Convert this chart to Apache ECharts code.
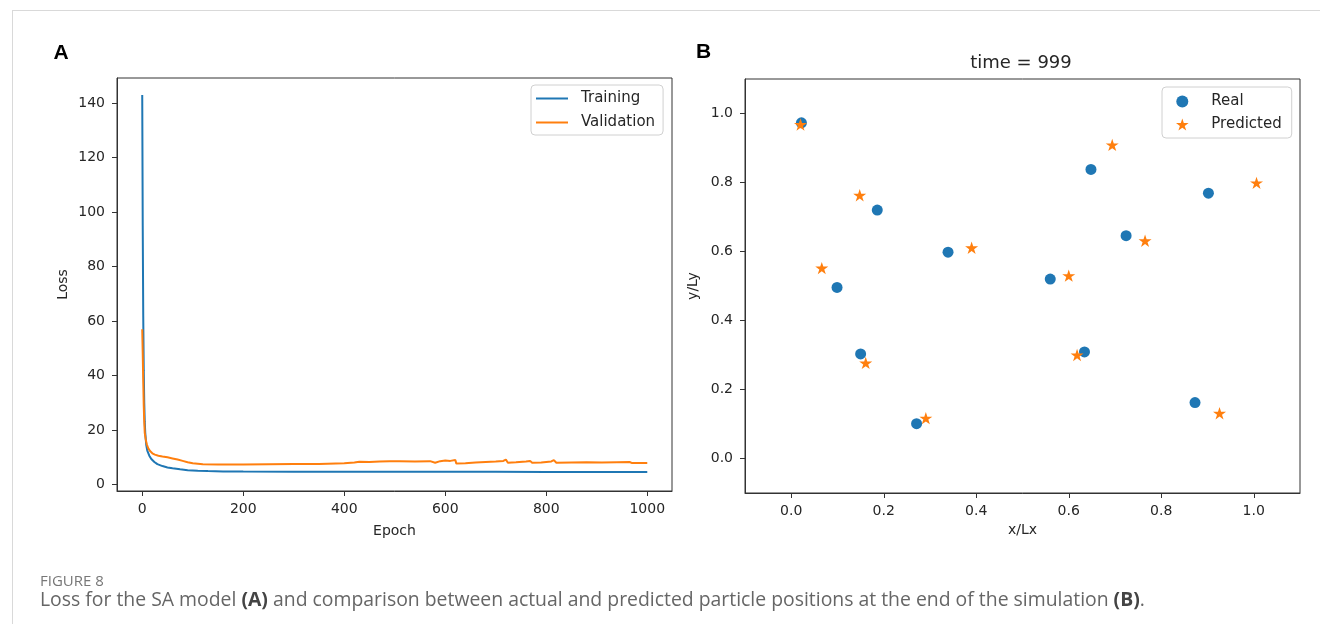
<!DOCTYPE html>
<html>
<head>
<meta charset="utf-8">
<script src="https://cdn.jsdelivr.net/npm/echarts@6/dist/echarts.min.js"></script>
<style>
  html, body { margin: 0; padding: 0; background: #fff; }
  #chart { width: 1320px; height: 624px; }
</style>
</head>
<body>
<div id="chart"></div>
<script>
// panel A: loss curves
const trainEpoch = [0, 1, 2, 3, 4, 5, 6, 8, 10, 14, 18, 24, 30, 40, 50, 60, 75, 90, 110, 130, 160, 200, 300, 400, 500, 600, 700, 800, 900, 1000];
const trainLoss = [143, 95, 62, 42, 30, 23, 19, 14.5, 12.5, 10.6, 9.4, 8.3, 7.5, 6.8, 6.3, 6.0, 5.6, 5.3, 5.1, 4.95, 4.85, 4.8, 4.75, 4.72, 4.7, 4.7, 4.68, 4.66, 4.65, 4.65];

const valEpoch = [0, 1, 2, 3, 4, 5, 7, 9, 12, 16, 20, 25, 32, 40, 50, 60, 70, 80, 90, 100,
  120, 150, 200, 250, 300, 350, 400, 420, 430, 450, 470, 490, 510, 540, 570, 580, 590, 600, 610, 620,
  622, 640, 660, 680, 700, 715, 720, 724, 740, 760, 768, 772, 790, 810, 815, 820, 850, 880, 910, 940,
  965, 970, 1000];
const valLoss = [57, 48, 38, 29, 23, 19, 16.5, 14.8, 13.3, 12.2, 11.5, 11.0, 10.6, 10.3, 10.0, 9.6, 9.2, 8.7, 8.2, 7.8,
  7.5, 7.4, 7.4, 7.5, 7.6, 7.6, 7.8, 8.1, 8.4, 8.3, 8.5, 8.6, 8.6, 8.5, 8.6, 8.0, 8.6, 8.8, 8.7, 9.0,
  7.7, 7.8, 8.1, 8.3, 8.5, 8.7, 9.2, 8.0, 8.2, 8.5, 8.7, 8.0, 8.1, 8.5, 9.0, 8.0, 8.1, 8.2, 8.1, 8.2,
  8.3, 7.9, 7.9];

const epochTicks = [0, 200, 400, 600, 800, 1000];
const lossTicks = [0, 20, 40, 60, 80, 100, 120, 140];

// panel B: particle positions at time = 999
const realX = [0.022, 0.186, 0.099, 0.150, 0.271, 0.339, 0.560, 0.648, 0.634, 0.724, 0.902, 0.873];
const realY = [0.973, 0.720, 0.496, 0.303, 0.101, 0.598, 0.520, 0.838, 0.309, 0.646, 0.769, 0.162];
const predX = [0.020, 0.148, 0.066, 0.161, 0.291, 0.390, 0.600, 0.694, 0.618, 0.765, 1.006, 0.926];
const predY = [0.968, 0.763, 0.552, 0.277, 0.117, 0.611, 0.530, 0.909, 0.300, 0.631, 0.799, 0.131];

const posTicks = [0, 0.2, 0.4, 0.6, 0.8, 1.0];

const BLUE = "#1f77b4";
const ORANGE = "#ff7f0e";
const FONT = "DejaVu Sans";
const STAR = "path://M50 0 L61.23 34.55 L97.55 34.55 L68.17 55.9 L79.39 90.45 L50 69.1 L20.61 90.45 L31.83 55.9 L2.45 34.55 L38.77 34.55 Z";

function zip(a, b) {
  return a.map((v, i) => [v, b[i]]);
}

function axisBase(ticks, fmt, margin) {
  return {
    type: "value",
    splitLine: { show: false },
    axisLine: { show: true, onZero: false, lineStyle: { color: "#333", width: 1 } },
    axisTick: { show: true, length: 5, customValues: ticks, lineStyle: { color: "#333" } },
    axisLabel: {
      customValues: ticks,
      margin: margin,
      fontSize: 14,
      fontFamily: FONT,
      color: "#262626",
      formatter: fmt,
    },
    nameLocation: "middle",
    nameTextStyle: { fontSize: 14, fontFamily: FONT, color: "#262626" },
  };
}

const chart = echarts.init(document.getElementById("chart"));

const legendText = { fontSize: 15, fontFamily: FONT, color: "#262626" };

const option = {
  animation: false,
  grid: [
    { left: 117, top: 78, width: 555, height: 413, show: true, borderColor: "#333", borderWidth: 1 },
    { left: 745, top: 79, width: 555, height: 414, show: true, borderColor: "#333", borderWidth: 1 },
  ],
  xAxis: [
    Object.assign(axisBase(epochTicks, (v) => String(v), 11), {
      gridIndex: 0, min: -49.95, max: 1048.95, name: "Epoch", nameGap: 33,
    }),
    Object.assign(axisBase(posTicks, (v) => v.toFixed(1), 11), {
      gridIndex: 1, min: -0.1, max: 1.1, name: "x/Lx", nameGap: 30,
    }),
  ],
  yAxis: [
    Object.assign(axisBase(lossTicks, (v) => String(v), 12), {
      gridIndex: 0, min: -2.35, max: 149.2, name: "Loss", nameGap: 47,
    }),
    Object.assign(axisBase(posTicks, (v) => v.toFixed(1), 12), {
      gridIndex: 1, min: -0.1, max: 1.1, name: "y/Ly", nameGap: 45,
    }),
  ],
  legend: [
    {
      data: [
        { name: "Training", icon: "rect" },
        { name: "Validation", icon: "rect" },
      ],
      orient: "vertical",
      left: 531, top: 85,
      padding: [6, 8, 5, 5],
      itemWidth: 32, itemHeight: 2, itemGap: 9,
      backgroundColor: "rgba(255,255,255,0.8)",
      borderColor: "#d0d0d0", borderWidth: 1, borderRadius: 4,
      textStyle: Object.assign({ padding: [0, 0, 0, 8] }, legendText),
    },
    {
      data: ["Real", "Predicted"],
      orient: "vertical",
      left: 1162, top: 87,
      padding: [7, 10, 6, 14],
      itemWidth: 14, itemHeight: 12, itemGap: 8,
      backgroundColor: "rgba(255,255,255,0.8)",
      borderColor: "#d0d0d0", borderWidth: 1, borderRadius: 4,
      textStyle: Object.assign({ padding: [0, 0, 0, 17] }, legendText),
    },
  ],
  series: [
    {
      name: "Training", type: "line", xAxisIndex: 0, yAxisIndex: 0,
      data: zip(trainEpoch, trainLoss),
      symbol: "none", color: BLUE, lineStyle: { width: 2, color: BLUE },
    },
    {
      name: "Validation", type: "line", xAxisIndex: 0, yAxisIndex: 0,
      data: zip(valEpoch, valLoss),
      symbol: "none", color: ORANGE, lineStyle: { width: 2, color: ORANGE },
    },
    {
      name: "Real", type: "scatter", xAxisIndex: 1, yAxisIndex: 1,
      data: zip(realX, realY),
      symbol: "circle", symbolSize: 11, color: BLUE, itemStyle: { color: BLUE, opacity: 1 },
    },
    {
      name: "Predicted", type: "scatter", xAxisIndex: 1, yAxisIndex: 1,
      data: zip(predX, predY),
      symbol: STAR, symbolSize: 13, symbolKeepAspect: true, color: ORANGE, itemStyle: { color: ORANGE, opacity: 1 },
    },
  ],
  graphic: [
    { type: "line", shape: { x1: 12, y1: 10.5, x2: 1320, y2: 10.5 }, style: { stroke: "#d9d9d9", lineWidth: 1 } },
    { type: "line", shape: { x1: 12.5, y1: 10, x2: 12.5, y2: 624 }, style: { stroke: "#d9d9d9", lineWidth: 1 } },
    {
      type: "text", x: 61, y: 53,
      style: { text: "A", fontSize: 21, fontWeight: "bold", fontFamily: "Liberation Sans", fill: "#000", align: "center", verticalAlign: "middle" },
    },
    {
      type: "text", x: 703.5, y: 52,
      style: { text: "B", fontSize: 21, fontWeight: "bold", fontFamily: "Liberation Sans", fill: "#000", align: "center", verticalAlign: "middle" },
    },
    {
      type: "text", x: 1021, y: 63,
      style: { text: "time = 999", fontSize: 18, fontFamily: FONT, fill: "#262626", align: "center", verticalAlign: "middle" },
    },
    {
      type: "text", x: 40, y: 582,
      style: { text: "FIGURE 8", fontSize: 15, fontFamily: "Open Sans", fill: "#777", verticalAlign: "middle" },
    },
    {
      type: "text", x: 40, y: 600,
      style: {
        text: "Loss for the SA model {b|(A)} and comparison between actual and predicted particle positions at the end of the simulation {b|(B)}.",
        fontSize: 19.4, fontFamily: "Open Sans", fill: "#666", verticalAlign: "middle",
        rich: { b: { fontSize: 19.4, fontFamily: "Open Sans", fontWeight: "bold", fill: "#444" } },
      },
    },
  ],
};

chart.setOption(option);
</script>
</body>
</html>
